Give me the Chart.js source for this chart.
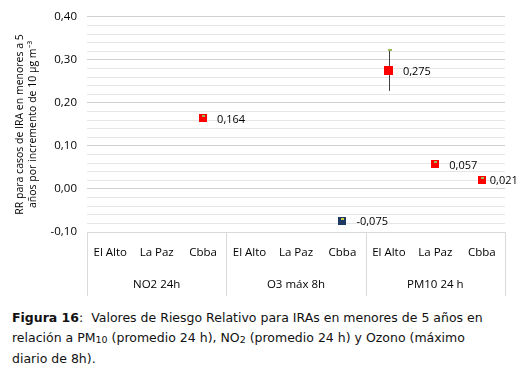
<!DOCTYPE html>
<html>
<head>
<meta charset="utf-8">
<script src="https://cdn.jsdelivr.net/npm/chart.js@4"></script>
<style>
  body { margin: 0; background: #fff; width: 532px; height: 366px; overflow: hidden; }
  #wrap { position: relative; width: 532px; height: 300px; }
  .cap { position: absolute; left: 12px; top: 308px; width: 520px; font-family: "DejaVu Sans", sans-serif; font-size: 12.5px; line-height: 20px; color: #111; white-space: nowrap; }
  .cap sub { font-size: 9.5px; vertical-align: baseline; position: relative; top: 1px; }
</style>
</head>
<body>
<div id="wrap"><canvas id="graph" width="532" height="300"></canvas></div>
<div class="cap"><b>Figura 16</b>:&nbsp; Valores de Riesgo Relativo para IRAs en menores de 5 años en<br>relación a PM<sub>10</sub> (promedio 24 h), NO<sub>2</sub> (promedio 24 h) y Ozono (máximo<br>diario de 8h).</div>
<script>
//////////////////////////////////////////////////////////
/* DATA */
const cities = ['El Alto', 'La Paz', 'Cbba', 'El Alto', 'La Paz', 'Cbba', 'El Alto', 'La Paz', 'Cbba'];
const groups = ['NO2 24h', 'O3 máx 8h', 'PM10 24 h'];
const rrValues = [null, null, 0.164, null, null, -0.075, 0.275, 0.057, 0.021];
const errLow = [null, null, null, null, null, null, 0.228, null, null];
const errHigh = [null, null, null, null, null, null, 0.322, null, null];
const pointColors = ['#ff0000', '#ff0000', '#ff0000', '#1f3864', '#1f3864', '#1f3864', '#ff0000', '#ff0000', '#ff0000'];

const fmt = v => v.toFixed(3).replace('.', ',');
const isMajor = v => Math.abs(Math.round(v * 100) % 10) === 0;

//---------------------------------------------
/* plugin: error bar, point highlight, value labels, two-level axis box */
const extras = {
  id: 'extras',
  afterDatasetsDraw(chart) {
    const ctx = chart.ctx;
    const x = chart.scales.x, y = chart.scales.y;
    ctx.save();
    // error bars
    errLow.forEach((lo, i) => {
      if (lo == null) return;
      const px = Math.round(x.getPixelForValue(i));
      ctx.strokeStyle = '#404040';
      ctx.lineWidth = 1;
      ctx.beginPath();
      ctx.moveTo(px + 0.5, y.getPixelForValue(errHigh[i]));
      ctx.lineTo(px + 0.5, y.getPixelForValue(lo));
      ctx.stroke();
      ctx.fillStyle = '#9bbb59';
      ctx.fillRect(px - 1, Math.round(y.getPixelForValue(errHigh[i])) - 1, 4, 2);
    });
    // markers
    const meta = chart.getDatasetMeta(0);
    meta.data.forEach((pt, i) => {
      if (rrValues[i] == null) return;
      const big = errLow[i] != null;
      const s = big ? 9 : 8;
      ctx.fillStyle = pointColors[i];
      ctx.fillRect(Math.round(pt.x - s / 2), Math.round(pt.y - s / 2), s, s);
      if (!big) {
        ctx.fillStyle = i === 5 ? '#c8d048' : '#9bbb59';
        ctx.fillRect(Math.round(pt.x) - 1, Math.round(pt.y - s / 2) + 1, 3, 2);
      }
      ctx.fillStyle = '#000';
      ctx.font = '11px "Open Sans", sans-serif';
      ctx.textBaseline = 'middle';
      ctx.textAlign = 'left';
      ctx.fillText(fmt(rrValues[i]), pt.x + (i === 8 ? 8 : 14), pt.y + 1);
    });
    // category box
    const top = Math.round(chart.chartArea.bottom);
    const bottom = 296;
    ctx.strokeStyle = '#d9d9d9';
    ctx.lineWidth = 1;
    ctx.beginPath();
    ctx.moveTo(x.left, top + 0.5);
    ctx.lineTo(x.right, top + 0.5);
    for (let g = 0; g <= groups.length; g++) {
      let px;
      if (g === 0) px = x.left;
      else if (g === groups.length) px = x.right;
      else px = (x.getPixelForValue(g * 3 - 1) + x.getPixelForValue(g * 3)) / 2;
      px = Math.round(px) + 0.5;
      ctx.moveTo(px, top);
      ctx.lineTo(px, bottom);
    }
    ctx.stroke();
    // group labels
    ctx.fillStyle = '#000';
    ctx.font = '11.5px "Open Sans", sans-serif';
    ctx.textAlign = 'center';
    ctx.textBaseline = 'middle';
    groups.forEach((g, k) => {
      ctx.fillText(g, x.getPixelForValue(k * 3 + 1), 285);
    });
    ctx.restore();
  }
};

const cfg = {
  type: 'line',
  data: {
    labels: cities,
    datasets: [{
      data: rrValues,
      showLine: false,
      pointRadius: 0,
      pointHoverRadius: 0
    }]
  },
  options: {
    responsive: false,
    animation: false,
    layout: { padding: { top: 9, right: 27, bottom: 0, left: 13 } },
    plugins: { legend: { display: false }, tooltip: { enabled: false } },
    scales: {
      x: {
        offset: true,
        grid: { display: false },
        border: { display: false },
        ticks: {
          color: '#000',
          font: { family: 'Open Sans', size: 11.5 },
          padding: 6,
          maxRotation: 0,
          autoSkip: false
        },
        afterFit: s => { s.height = 68; }
      },
      y: {
        min: -0.1,
        max: 0.4,
        border: { display: false },
        grid: {
          color: c => (isMajor(c.tick.value) ? '#d0d0d0' : '#e6e6e6'),
          drawTicks: false
        },
        ticks: {
          stepSize: 0.02,
          autoSkip: false,
          padding: 10,
          color: '#000',
          font: { family: 'Open Sans', size: 11.5 },
          callback: v => (isMajor(v) ? v.toFixed(2).replace('.', ',') : '')
        },
        title: {
          display: true,
          text: ['RR para casos de IRA en menores a 5', 'años por incremento de 10 µg m⁻³'],
          color: '#000',
          font: { family: 'Open Sans', size: 10.5, lineHeight: 1.25 },
          padding: { top: 0, bottom: 4 }
        },
        afterFit: s => { s.width = 74; }
      }
    }
  },
  plugins: [extras]
};

new Chart(document.getElementById('graph'), cfg);
</script>
</body>
</html>
